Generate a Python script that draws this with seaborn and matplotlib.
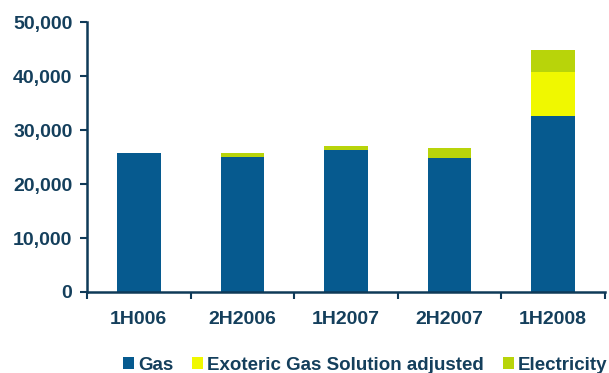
import matplotlib
matplotlib.use("Agg")
import matplotlib.pyplot as plt
from matplotlib.patches import Patch
import seaborn as sns
import numpy as np
import pandas as pd

categories = ["1H006", "2H2006", "1H2007", "2H2007", "1H2008"]
gas = [25700, 25000, 26300, 24800, 32600]
exoteric = [0, 0, 0, 0, 8100]
electricity = [0, 700, 700, 1900, 4100]
series_names = ["Gas", "Exoteric Gas Solution adjusted", "Electricity"]
yticks = [0, 10000, 20000, 30000, 40000, 50000]

c_gas = "#065a8f"
c_exo = "#f0f800"
c_elec = "#b8d40a"
c_axis = "#0f3a58"
c_text = "#143f5c"

sns.set_theme(style="white")
plt.rcParams["font.family"] = ["Liberation Sans", "DejaVu Sans"]

df = pd.DataFrame({"cat": categories, "gas": gas, "exo": exoteric, "elec": electricity})
df["lvl1"] = df["gas"]
df["lvl2"] = df["gas"] + df["exo"]
df["lvl3"] = df["lvl2"] + df["elec"]

fig = plt.figure(figsize=(6.09, 3.73), dpi=100)
ax = fig.add_axes([87 / 609, 1 - 292 / 373, 518 / 609, 270 / 373])

for col, color in [("lvl3", c_elec), ("lvl2", c_exo), ("lvl1", c_gas)]:
    sns.barplot(data=df, x="cat", y=col, order=categories, color=color,
                width=0.42, saturation=1, ax=ax, linewidth=0)

ax.set_xlim(-0.5, len(categories) - 0.5)
ax.set_ylim(0, 50000)
ax.set_yticks(yticks)
ax.set_yticklabels([f"{v:,}" for v in yticks], fontsize=14, fontweight="bold", color=c_text)
ax.set_xticks(np.arange(len(categories)))
ax.set_xticklabels(categories, fontsize=14, fontweight="bold", color=c_text)
ax.tick_params(axis="x", length=0, pad=13.5)
ax.tick_params(axis="y", length=5, width=1.5, color=c_axis, direction="out", left=True, pad=5.5)
# category boundary ticks on x
ax.set_xticks(np.arange(len(categories) + 1) - 0.5, minor=True)
ax.tick_params(axis="x", which="minor", length=5, width=1.5, color=c_axis, direction="out", bottom=True)
ax.set_xlabel("")
ax.set_ylabel("")
for s in ["top", "right"]:
    ax.spines[s].set_visible(False)
for s in ["left", "bottom"]:
    ax.spines[s].set_color(c_axis)
    ax.spines[s].set_linewidth(1.8)
ax.grid(False)

handles = [Patch(facecolor=c, edgecolor="none") for c in (c_gas, c_exo, c_elec)]
leg = fig.legend(handles, series_names, loc="center left", bbox_to_anchor=(123 / 609, 1 - 365 / 373),
                 ncol=3, frameon=False, handlelength=0.6, handleheight=0.6, handletextpad=0.2,
                 columnspacing=1.0, prop={"weight": "bold", "size": 13.5}, borderaxespad=0, borderpad=0)
for t in leg.get_texts():
    t.set_color(c_text)

fig.savefig("out.png", dpi=100)
